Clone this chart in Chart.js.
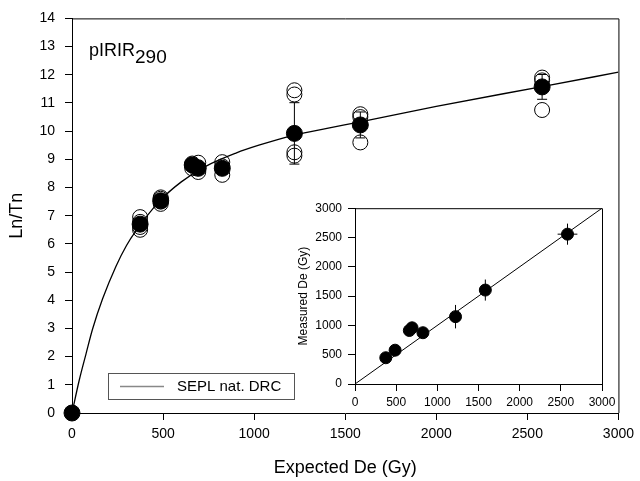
<!DOCTYPE html>
<html lang="en">
<head>
<meta charset="UTF-8">
<title>pIRIR290 dose recovery</title>
<script src="https://cdn.jsdelivr.net/npm/chart.js@4"></script>
<style>
  html, body { margin: 0; padding: 0; background: #fff; }
  #wrap { position: relative; width: 640px; height: 481px; }
  #main { position: absolute; left: 0; top: 0; }
  #inset { position: absolute; left: 290px; top: 195px; }
</style>
</head>
<body>
<div id="wrap">
  <canvas id="main" width="640" height="481"></canvas>
  <canvas id="inset" width="330" height="225"></canvas>
</div>
<script>
// ---- main panel data ----
const meanDose = [0, 374, 487, 660, 693, 825, 1221, 1583, 2581];
const meanLnTn = [0, 6.7, 7.53, 8.8, 8.68, 8.68, 9.92, 10.22, 11.57];
const meanErr  = [0, 0.15, 0.1, 0.08, 0.12, 0.2, 1.09, 0.46, 0.44];

const aliquotDose = [374, 374, 374, 374, 487, 487, 487, 487, 660, 660, 660, 693, 693, 693,
                     825, 825, 825, 1221, 1221, 1221, 1221, 1583, 1583, 1583, 2581, 2581, 2581];
const aliquotLnTn = [6.95, 6.78, 6.6, 6.5, 7.42, 7.5, 7.6, 7.65, 8.68, 8.85, 8.8, 8.55, 8.72, 8.88,
                     8.9, 8.75, 8.45, 11.45, 11.3, 9.25, 9.13, 10.6, 10.5, 9.6, 11.9, 11.8, 10.75];

const curveDose = [0, 40, 77, 113, 168, 241, 300, 350, 478, 600, 734, 900, 1026, 1221, 1400, 1583, 2000, 2581, 3000];
const curveLnTn = [0, 1.17, 2.1, 2.98, 4.05, 5.2, 5.95, 6.45, 7.5, 8.2, 8.75, 9.22, 9.5, 9.86, 10.1, 10.33, 10.88, 11.58, 12.09];

// ---- inset data ----
const expDe   = [374, 487, 660, 693, 825, 1221, 1583, 2581];
const measDe  = [448, 577, 913, 959, 875, 1149, 1603, 2557];
const measErr = [40, 40, 50, 50, 50, 200, 180, 180];
const expErr  = [0, 0, 0, 0, 0, 0, 0, 120];
const unityLine = [0, 3000];

const FONT = '"Liberation Sans", Arial, sans-serif';
Chart.defaults.font.family = FONT;
Chart.defaults.color = '#000';

const pts = (xs, ys) => xs.map((x, i) => ({ x: x, y: ys[i] }));
const plain = v => String(v);

// error bars drawn just before their dataset so the dots sit on top
const errorBars = {
  id: 'errorBars',
  beforeDatasetDraw(chart, args) {
    const ds = chart.data.datasets[args.index];
    if (!ds.errY && !ds.errX) return;
    const xs = chart.scales.x, ys = chart.scales.y, ctx = chart.ctx;
    const cap = ds.capWidth || 0;
    ctx.save();
    ctx.strokeStyle = '#000';
    ctx.lineWidth = 1;
    ctx.beginPath();
    ds.data.forEach((p, j) => {
      const px = xs.getPixelForValue(p.x), py = ys.getPixelForValue(p.y);
      const ey = ds.errY ? ds.errY[j] : 0;
      const ex = ds.errX ? ds.errX[j] : 0;
      if (ey) {
        const t = ys.getPixelForValue(p.y + ey), b = ys.getPixelForValue(p.y - ey);
        ctx.moveTo(px, t); ctx.lineTo(px, b);
        if (cap) {
          ctx.moveTo(px - cap / 2, t); ctx.lineTo(px + cap / 2, t);
          ctx.moveTo(px - cap / 2, b); ctx.lineTo(px + cap / 2, b);
        }
      }
      if (ex) {
        const l = xs.getPixelForValue(p.x - ex), r = xs.getPixelForValue(p.x + ex);
        ctx.moveTo(l, py); ctx.lineTo(r, py);
      }
    });
    ctx.stroke();
    ctx.restore();
  }
};

// top and right frame lines
const frame = {
  id: 'frame',
  afterDraw(chart) {
    const a = chart.chartArea, ctx = chart.ctx;
    ctx.save();
    ctx.strokeStyle = '#000';
    ctx.lineWidth = 1;
    ctx.beginPath();
    ctx.moveTo(a.left, a.top + 0.5);
    ctx.lineTo(a.right + 0.5, a.top + 0.5);
    ctx.lineTo(a.right + 0.5, a.bottom);
    ctx.stroke();
    ctx.restore();
  }
};

// legend box and panel label for the main chart
const mainDecor = {
  id: 'mainDecor',
  afterDraw(chart) {
    const a = chart.chartArea, ctx = chart.ctx;
    ctx.save();
    // panel label
    ctx.fillStyle = '#000';
    ctx.textBaseline = 'alphabetic';
    ctx.font = '18px ' + FONT;
    ctx.fillText('pIRIR', a.left + 17, 56);
    const w = ctx.measureText('pIRIR').width;
    ctx.font = '19px ' + FONT;
    ctx.fillText('290', a.left + 17 + w, 63);
    // legend
    const curve = chart.data.datasets[2];
    const bx = a.left + 36, by = a.bottom - 40;
    ctx.strokeStyle = '#555';
    ctx.lineWidth = 1;
    ctx.strokeRect(bx + 0.5, by + 0.5, 186, 26);
    ctx.strokeStyle = '#888';
    ctx.lineWidth = 1.5;
    ctx.beginPath();
    ctx.moveTo(bx + 12, by + 13.5);
    ctx.lineTo(bx + 56, by + 13.5);
    ctx.stroke();
    ctx.font = '15px ' + FONT;
    ctx.textBaseline = 'middle';
    ctx.fillText(curve.label, bx + 69, by + 14);
    ctx.restore();
  }
};

const axisGrid = { drawOnChartArea: false, drawTicks: true, tickLength: 7, color: '#000' };

new Chart(document.getElementById('main'), {
  type: 'scatter',
  data: {
    datasets: [
      {
        label: 'Mean',
        data: pts(meanDose, meanLnTn),
        errY: meanErr,
        capWidth: 10,
        pointRadius: 8,
        pointBackgroundColor: '#000',
        pointBorderColor: '#000',
        pointBorderWidth: 1,
        clip: false
      },
      {
        label: 'Aliquots',
        data: pts(aliquotDose, aliquotLnTn),
        pointRadius: 7.5,
        pointBackgroundColor: 'rgba(0,0,0,0)',
        pointBorderColor: '#000',
        pointBorderWidth: 1,
        clip: false
      },
      {
        type: 'line',
        label: 'SEPL nat. DRC',
        data: pts(curveDose, curveLnTn),
        showLine: true,
        borderColor: '#000',
        borderWidth: 1.3,
        pointRadius: 0,
        cubicInterpolationMode: 'monotone',
        fill: false
      }
    ]
  },
  options: {
    responsive: false,
    animation: false,
    events: [],
    layout: { padding: { left: 0, top: 16, right: 19, bottom: 0 } },
    plugins: { legend: { display: false }, tooltip: { enabled: false } },
    scales: {
      x: {
        type: 'linear', min: 0, max: 3000,
        ticks: { stepSize: 500, font: { size: 14 }, padding: 6, color: '#000', callback: plain },
        grid: axisGrid,
        border: { color: '#000', width: 1 },
        title: { display: true, text: 'Expected De (Gy)', font: { size: 18 }, padding: { top: 0, bottom: 2 } },
        afterFit: s => { s.height = 68; }
      },
      y: {
        type: 'linear', min: 0, max: 14,
        ticks: { stepSize: 1, font: { size: 14 }, padding: 10, color: '#000', callback: plain },
        grid: axisGrid,
        border: { color: '#000', width: 1 },
        title: { display: true, text: 'Ln/Tn', font: { size: 18 }, padding: { top: 6, bottom: 0 } },
        afterFit: s => { s.width = 72; }
      }
    }
  },
  plugins: [errorBars, frame, mainDecor]
});

new Chart(document.getElementById('inset'), {
  type: 'scatter',
  data: {
    datasets: [
      {
        label: 'Measured vs expected',
        data: pts(expDe, measDe),
        errY: measErr,
        errX: expErr,
        pointRadius: 6,
        pointBackgroundColor: '#000',
        pointBorderColor: '#000',
        clip: false
      },
      {
        type: 'line',
        label: '1:1',
        data: pts(unityLine, unityLine),
        showLine: true,
        borderColor: '#000',
        borderWidth: 1,
        pointRadius: 0,
        fill: false
      }
    ]
  },
  options: {
    responsive: false,
    animation: false,
    events: [],
    layout: { padding: { left: 0, top: 11, right: 18, bottom: 0 } },
    plugins: { legend: { display: false }, tooltip: { enabled: false } },
    scales: {
      x: {
        type: 'linear', min: 0, max: 3000,
        ticks: { stepSize: 500, font: { size: 12 }, padding: 4, color: '#000', callback: plain },
        grid: axisGrid,
        border: { color: '#000', width: 1 },
        afterFit: s => { s.height = 36; }
      },
      y: {
        type: 'linear', min: 0, max: 3000,
        ticks: { stepSize: 500, font: { size: 12 }, padding: 6, color: '#000', callback: plain },
        grid: axisGrid,
        border: { color: '#000', width: 1 },
        title: { display: true, text: 'Measured De (Gy)', font: { size: 12 }, padding: { top: 6, bottom: 0 } },
        afterFit: s => { s.width = 65; }
      }
    }
  },
  plugins: [errorBars, frame]
});
</script>
</body>
</html>
